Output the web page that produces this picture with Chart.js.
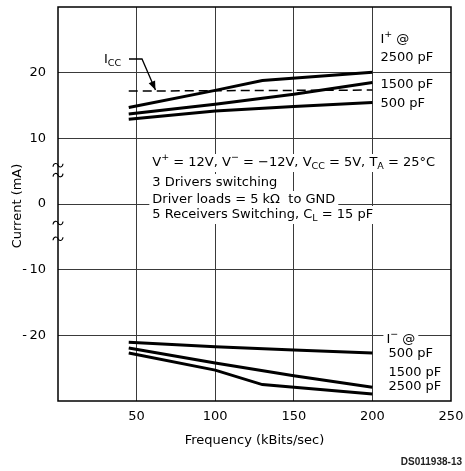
<!DOCTYPE html>
<html>
<head>
<meta charset="utf-8">
<script src="https://cdn.jsdelivr.net/npm/chart.js@4/dist/chart.umd.min.js"></script>
<style>
html,body{margin:0;padding:0;background:#fff;}
#wrap{width:465px;height:471px;position:relative;}
</style>
</head>
<body>
<div id="wrap"><canvas id="c" width="465" height="471"></canvas></div>
<script>
// ---- data ----
const xTicks = [50, 100, 150, 200, 250];
const yTicks = [-20, -10, 0, 10, 20];

const freqIp2500 = [45, 100, 130, 200];
const curIp2500  = [14.7, 17.3, 18.8, 20.05];
const freqIp1500 = [45, 100, 150, 200];
const curIp1500  = [13.7, 15.2, 16.7, 18.5];
const freqIp500  = [45, 100, 150, 200];
const curIp500   = [12.9, 14.15, 14.85, 15.45];
const freqIcc    = [45, 200];
const curIcc     = [17.2, 17.35];
const freqIm500  = [45, 100, 150, 200];
const curIm500   = [-21.07, -21.73, -22.23, -22.7];
const freqIm1500 = [45, 100, 150, 200];
const curIm1500  = [-21.93, -24.2, -26.15, -27.9];
const freqIm2500 = [45, 100, 130, 200];
const curIm2500  = [-22.7, -25.3, -27.5, -28.95];

const labelsIplus  = [[['I',0],['+','sup'],[' @',0]], [['2500 pF',0]], [['1500 pF',0]], [['500 pF',0]]];
const labelsIminus = [[['I',0],['\u2212','sup'],[' @',0]], [['500 pF',0]], [['1500 pF',0]], [['2500 pF',0]]];
const condLines = [
  [['V',0],['+','sup'],[' = 12V, V',0],['\u2212','sup'],[' = \u221212V, V',0],['CC','sub'],[' = 5V, T',0],['A','sub'],[' = 25\u00B0C',0]],
  [['3 Drivers switching',0]],
  [['Driver loads = 5 k\u03A9  to GND',0]],
  [['5 Receivers Switching, C',0],['L','sub'],[' = 15 pF',0]]
];
const iccLabel = [['I',0],['CC','sub']];
const xTitle = 'Frequency (kBits/sec)';
const yTitle = 'Current (mA)';
const docId = 'DS011938-13';

function pts(xs, ys){ return xs.map((v,i)=>({x:v, y:ys[i]})); }

const FONT = '"DejaVu Sans", sans-serif';
function rich(ctx, x, y, segs, bg){
  const ws = segs.map(s=>{ ctx.font = (s[1] ? '9.5px ' : '13px ') + FONT; return ctx.measureText(s[0]).width; });
  const w = ws.reduce((a,b)=>a+b,0);
  if (bg){ ctx.fillStyle='#fff'; ctx.fillRect(x-3, y-bg, w+6, bg*2); }
  ctx.fillStyle='#000'; ctx.textBaseline='middle'; ctx.textAlign='left';
  let cx = x;
  segs.forEach((s,i)=>{
    ctx.font = (s[1] ? '9.5px ' : '13px ') + FONT;
    const dy = s[1]==='sup' ? -5 : (s[1]==='sub' ? 4 : 0);
    ctx.fillText(s[0], cx, y+dy);
    cx += ws[i];
  });
  return w;
}

const overlay = {
  id:'overlay',
  afterDatasetsDraw(chart){
    const {ctx, chartArea:a, scales:{x, y}} = chart;
    ctx.save();
    // frame
    ctx.strokeStyle='#000'; ctx.lineWidth=1.5;
    ctx.strokeRect(a.left, a.top, a.right-a.left, a.bottom-a.top);
    // axis break marks
    ctx.lineWidth=1.1;
    [5.9, 4.4, -2.9, -5.3].forEach(v=>{
      const py = y.getPixelForValue(v), px = a.left;
      ctx.beginPath();
      ctx.moveTo(px-5, py+1.5);
      ctx.bezierCurveTo(px-4.5, py-2.5, px-1, py-2.5, px, py);
      ctx.bezierCurveTo(px+1, py+2.5, px+4.5, py+2.5, px+5, py-1.5);
      ctx.stroke();
    });
    // condition text block
    const tx = x.getPixelForValue(60);
    const rowsY = [163, 183, 200, 215];
    condLines.forEach((segs,i)=>{ rich(ctx, tx, rowsY[i], segs, 9); });
    // right-side labels
    const lx = x.getPixelForValue(200)+8;
    [40, 58, 85, 104].forEach((py,i)=> rich(ctx, lx, py, labelsIplus[i], 0));
    rich(ctx, lx+6, 340, labelsIminus[0], 8);
    [354, 373, 387].forEach((py,i)=> rich(ctx, lx+8, py, labelsIminus[i+1], 0));
    // Icc label and arrow
    rich(ctx, 104, 60, iccLabel, 0);
    const tipX = x.getPixelForValue(62), tipY = y.getPixelForValue(curIcc[0])-1;
    ctx.strokeStyle='#000'; ctx.lineWidth=1.3;
    ctx.beginPath(); ctx.moveTo(129, 59); ctx.lineTo(142, 59); ctx.lineTo(tipX, tipY); ctx.stroke();
    const ang = Math.atan2(tipY-59, tipX-142);
    ctx.fillStyle='#000'; ctx.beginPath();
    ctx.moveTo(tipX, tipY);
    ctx.lineTo(tipX-9*Math.cos(ang)+3.5*Math.sin(ang), tipY-9*Math.sin(ang)-3.5*Math.cos(ang));
    ctx.lineTo(tipX-9*Math.cos(ang)-3.5*Math.sin(ang), tipY-9*Math.sin(ang)+3.5*Math.cos(ang));
    ctx.closePath(); ctx.fill();
    // axis titles
    ctx.fillStyle='#000'; ctx.font='13px '+FONT; ctx.textAlign='center'; ctx.textBaseline='middle';
    ctx.fillText(xTitle, (a.left+a.right)/2, 441);
    ctx.save(); ctx.translate(18, (a.top+a.bottom)/2+2); ctx.rotate(-Math.PI/2);
    ctx.fillText(yTitle, 0, 0); ctx.restore();
    // document id
    ctx.font='bold 10px "Liberation Sans", Arial, sans-serif'; ctx.textAlign='right';
    ctx.fillStyle='#222';
    ctx.fillText(docId, 462, 462);
    ctx.restore();
  }
};

const lineDs = (d)=>({data:d, borderColor:'#000', borderWidth:3, pointRadius:0, tension:0, fill:false, showLine:true});

new Chart(document.getElementById('c'), {
  type:'line',
  data:{ datasets:[
    lineDs(pts(freqIp2500, curIp2500)),
    lineDs(pts(freqIp1500, curIp1500)),
    lineDs(pts(freqIp500, curIp500)),
    Object.assign(lineDs(pts(freqIcc, curIcc)), {borderWidth:1.5, borderDash:[9,5]}),
    lineDs(pts(freqIm500, curIm500)),
    lineDs(pts(freqIm1500, curIm1500)),
    lineDs(pts(freqIm2500, curIm2500))
  ]},
  options:{
    responsive:false, animation:false,
    layout:{padding:{top:7, right:14, left:0, bottom:0}},
    plugins:{legend:{display:false}, tooltip:{enabled:false}},
    scales:{
      x:{ type:'linear', min:0, max:250,
          afterBuildTicks(s){ s.ticks = [0].concat(xTicks).map(v=>({value:v})); },
          afterFit(s){ s.height = 70; s.paddingLeft = 0; s.paddingRight = 0; },
          border:{display:false},
          grid:{ drawTicks:false, lineWidth:1,
                 color:(c)=> (c.tick && (c.tick.value===0 || c.tick.value===250)) ? 'rgba(0,0,0,0)' : '#3a3a3a' },
          ticks:{ padding:8, color:'#000', font:{family:'DejaVu Sans', size:13},
                  callback:(v)=> v===0 ? '' : String(v) }
      },
      y:{ type:'linear', min:-30, max:30,
          afterBuildTicks(s){ s.ticks = [-30].concat(yTicks, [30]).map(v=>({value:v})); },
          afterFit(s){ s.width = 58; s.paddingTop = 0; s.paddingBottom = 0; },
          border:{display:false},
          grid:{ drawTicks:false, lineWidth:1,
                 color:(c)=> (c.tick && Math.abs(c.tick.value)===30) ? 'rgba(0,0,0,0)' : '#3a3a3a' },
          ticks:{ padding:12, color:'#000', font:{family:'DejaVu Sans', size:13},
                  callback:(v)=> Math.abs(v)===30 ? '' : String(v).replace('-', '-\u2009') }
      }
    }
  },
  plugins:[overlay]
});
</script>
</body>
</html>
